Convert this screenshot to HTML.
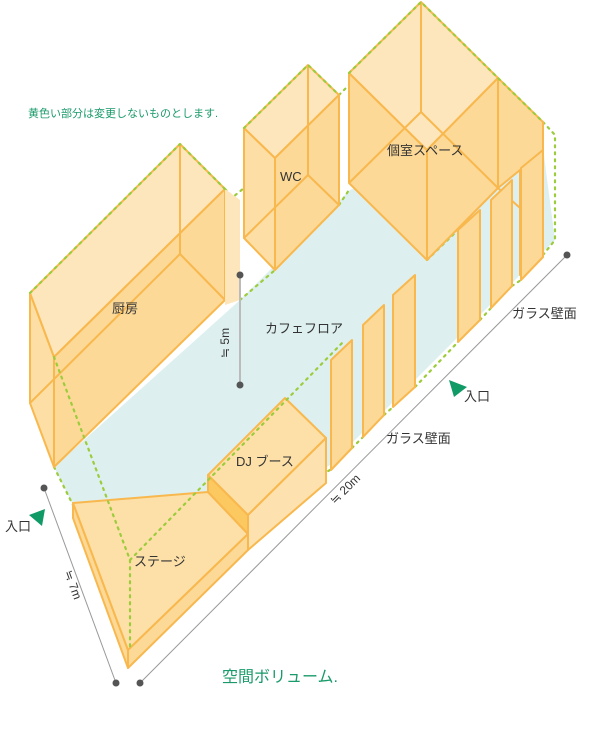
<!DOCTYPE html>
<html><head><meta charset="utf-8"><style>
body{margin:0;background:#fff}
svg{display:block}
text{font-family:"Liberation Sans","Noto Sans CJK JP",sans-serif;fill:#333;font-size:13px}
</style></head><body>
<svg width="600" height="732" viewBox="0 0 600 732" xmlns="http://www.w3.org/2000/svg">
<g stroke-linejoin="round">
<!-- floor -->
<polygon points="54,467 240,300 350,190 540,125 555,240 330,465 250,515 128,665 73,505" fill="#ddf0ef"/>
<g stroke="#9ccc3c" stroke-width="2.2" stroke-dasharray="2 5" fill="none" stroke-linecap="round">
<polyline points="54,467 73,505"/>
<polyline points="240,300 275,270"/>
<polyline points="339,205 349,190"/>
<polyline points="427,260 458,230"/>
<polyline points="330,470 250,515"/>
<polyline points="415,387 458,342"/>
<polyline points="352,448 363,437"/>
<polyline points="384,415 393,407"/>
<polyline points="480,320 491,308"/>
<polyline points="512,286 521,280"/>
<polyline points="543,122 555,135 555,240 543,255"/>
<polyline points="339,95 349,85"/>
<polyline points="225,189 233,197 244,188"/>
</g>
<!-- kitchen -->
<g stroke="#f8b84e" stroke-width="2">
<polygon points="30,293 54,357 54,467 30,403" fill="#fddfa6"/>
<polygon points="30,293 180,144 225,189 54,357" fill="#fde6bc"/>
<polygon points="54,357 225,189 225,300 54,467" fill="#fdd998"/>
<polyline points="180,144 180,254 225,300" fill="none"/>
<polyline points="180,254 30,403" fill="none"/>
</g>
<polygon points="225,189 240,200 240,300 225,305" fill="#fde6bc"/>
<!-- WC -->
<g stroke="#f8b84e" stroke-width="2">
<polygon points="244,128 275,158 275,270 244,238" fill="#fddfa6"/>
<polygon points="244,128 308,65 339,95 275,158" fill="#fde6bc"/>
<polygon points="275,158 339,95 339,205 275,270" fill="#fdd998"/>
<polyline points="308,65 308,175 339,205" fill="none"/>
<polyline points="308,175 244,238" fill="none"/>
</g>
<!-- private room -->
<g stroke="#f8b84e" stroke-width="2">
<polygon points="349,73 427,150 427,260 349,183" fill="#fdd998"/>
<polygon points="349,73 421,2 498,78 427,150" fill="#fde6bc"/>
<polygon points="427,150 498,78 498,188 427,260" fill="#fdd998"/>
<polygon points="498,78 543,122 543,255 520,275 520,170 498,188" fill="#fdd998"/>
<polyline points="421,2 421,112 349,183" fill="none"/>
<polyline points="421,112 498,188" fill="none"/>
<polyline points="498,188 520,208" fill="none"/>
<polyline points="543,150 520,170" fill="none"/>
</g>
<!-- glass panels -->
<g stroke="#f8b84e" stroke-width="2" fill="#fdd998">
<polygon points="458,230 480,210 480,320 458,342"/>
<polygon points="491,200 512,180 512,286 491,308"/>
<polygon points="521,168 543,150 543,257 521,280"/>
<polygon points="393,295 415,275 415,387 393,407"/>
<polygon points="363,325 384,305 384,415 363,437"/>
<polygon points="331,360 352,340 352,448 331,470"/>
</g>
<!-- stage -->
<g stroke="#f8b84e" stroke-width="2">
<polygon points="73,503 128,650 128,668 73,518" fill="#fdd998"/>
<polygon points="73,503 208,492 248,534 128,650" fill="#fde0a8"/>
<polygon points="128,650 248,534 248,550 128,668" fill="#fdd998"/>
</g>
<!-- DJ -->
<g stroke="#f8b84e" stroke-width="2">
<polygon points="208,475 248,515 248,534 208,492" fill="#fcc860"/>
<polygon points="208,475 285,398 326,438 248,515" fill="#fde0a8"/>
<polygon points="248,515 326,438 326,483 248,550" fill="#fde2b0"/>
</g>
<g stroke="#9ccc3c" stroke-width="2.2" stroke-dasharray="2 5" fill="none" stroke-linecap="round">
<polyline points="30,293 180,144 225,189"/>
<polyline points="244,128 308,65 339,95"/>
<polyline points="349,73 421,2 498,78 543,122"/>
<polyline points="54,357 130,560 130,650"/>
<polyline points="130,560 345,340"/>
</g>
<!-- dims -->
<g stroke="#999" stroke-width="1" fill="none">
<line x1="44" y1="488" x2="116" y2="683"/>
<line x1="140" y1="683" x2="567" y2="255"/>
<line x1="240" y1="275" x2="240" y2="385" stroke="#bbb" stroke-width="2"/>
</g>
<g fill="#555">
<circle cx="44" cy="488" r="3.5"/><circle cx="116" cy="683" r="3.5"/>
<circle cx="140" cy="683" r="3.5"/><circle cx="567" cy="255" r="3.5"/>
<circle cx="240" cy="275" r="3.5"/><circle cx="240" cy="385" r="3.5"/>
</g>
<g fill="#0f9a66">
<polygon points="449,380 467,387 454,397"/>
<polygon points="29,515 45,509 42,526"/>
</g>
</g>
<text x="28" y="117" style="font-size:11px;fill:#1a9a6a">黄色い部分は変更しないものとします.</text>
<text x="112" y="313">厨房</text>
<text x="280" y="181">WC</text>
<text x="387" y="155">個室スペース</text>
<text x="265" y="333">カフェフロア</text>
<text x="512" y="318">ガラス壁面</text>
<text x="386" y="443">ガラス壁面</text>
<text x="464" y="401">入口</text>
<text x="5" y="531">入口</text>
<text x="236" y="466">DJ ブース</text>
<text x="134" y="566">ステージ</text>
<text x="222" y="682" style="font-size:16px;fill:#1a9a6a">空間ボリューム.</text>
<text transform="translate(229,358) rotate(-90)" style="font-size:12px">≒ 5m</text>
<text transform="translate(335,505) rotate(-45)" style="font-size:12px">≒ 20m</text>
<text transform="translate(64,572) rotate(70)" style="font-size:12px">≒ 7m</text>
</svg>
</body></html>
